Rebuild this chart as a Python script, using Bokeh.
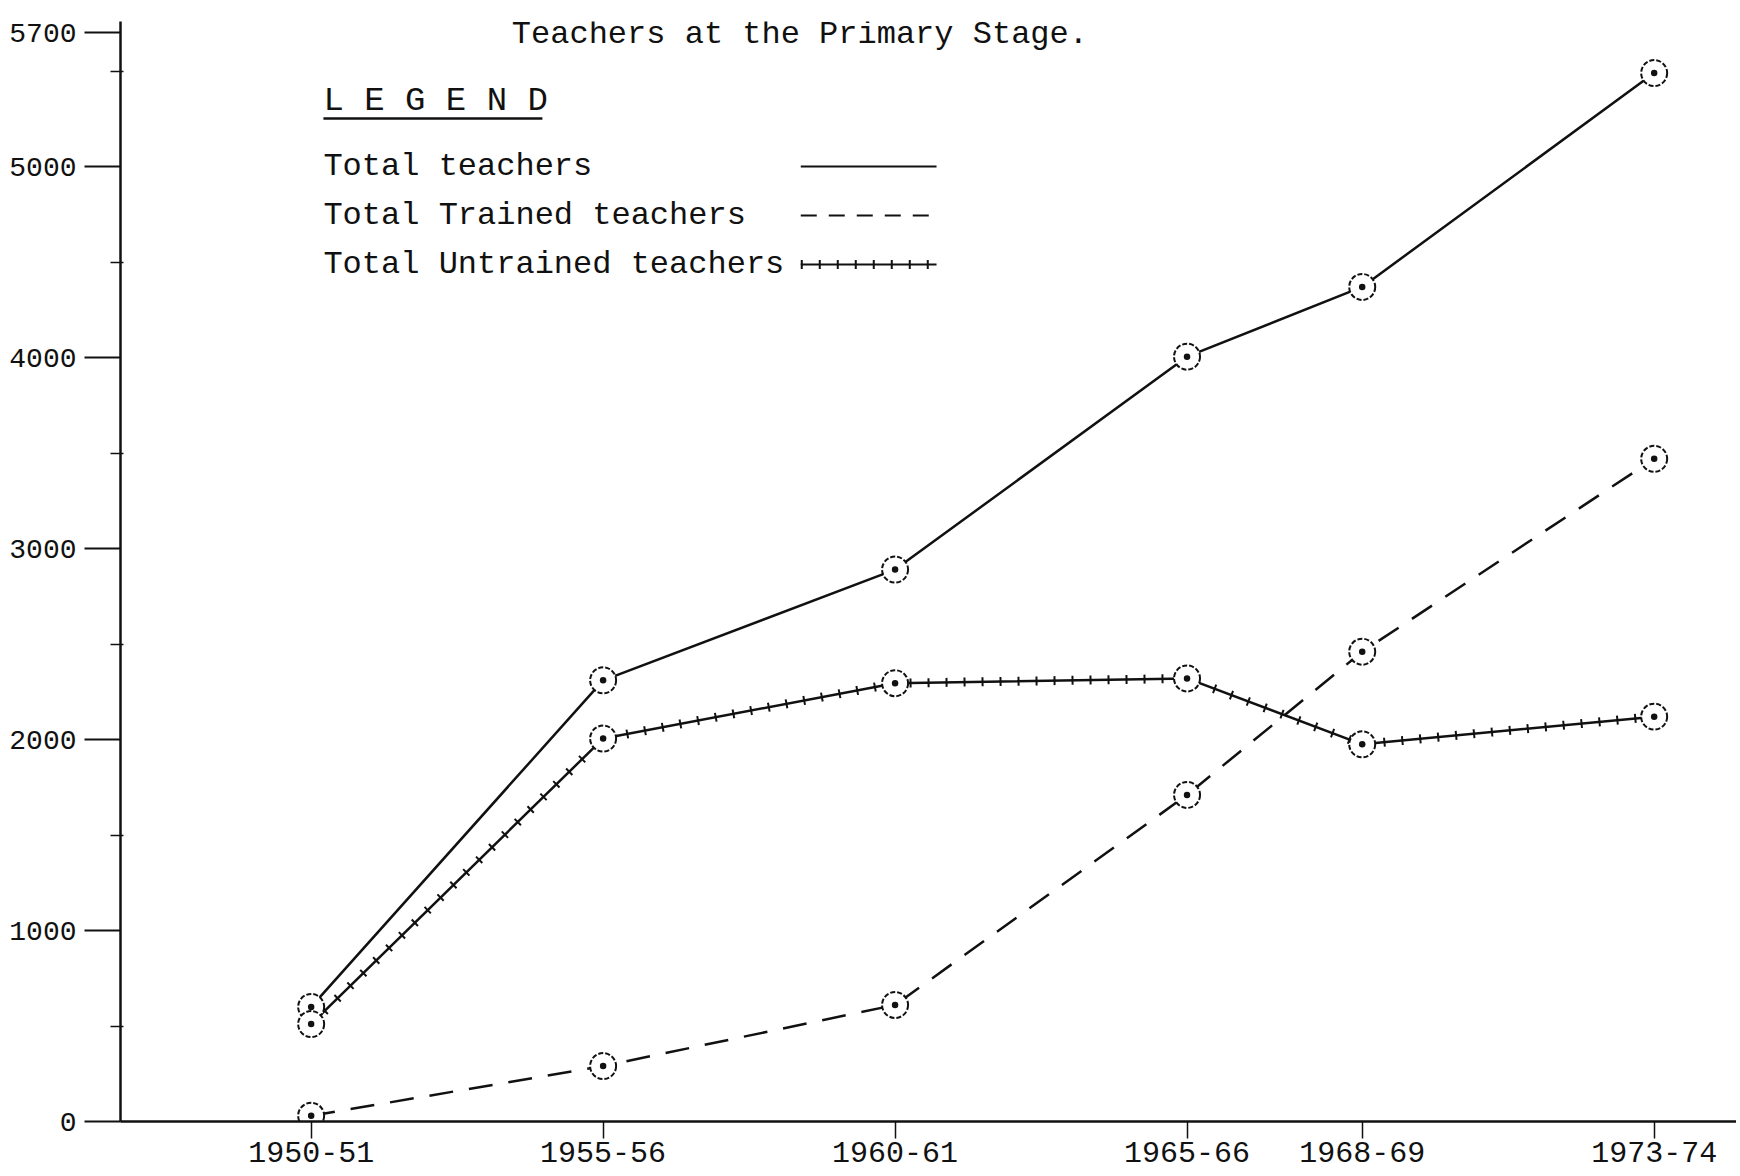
from bokeh.plotting import figure
from bokeh.models import FixedTicker, Label, Range1d
from bokeh.embed import file_html
from bokeh.resources import INLINE

# ---- data ----
years = [1950, 1955, 1960, 1965, 1968, 1973]
year_labels = ["1950-51", "1955-56", "1960-61", "1965-66", "1968-69", "1973-74"]
total_teachers = [600, 2310, 2890, 4005, 4370, 5490]
trained_teachers = [30, 290, 610, 1710, 2460, 3470]
untrained_teachers = [510, 2005, 2295, 2320, 1975, 2120]
y_ticks = [0, 1000, 2000, 3000, 4000, 5000, 5700]
y_minor = [500, 1500, 2500, 3500, 4500, 5500]

title_text = "Teachers at the Primary Stage."
legend_title = "L E G E N D"
legend_names = ["Total teachers", "Total Trained teachers", "Total Untrained teachers"]

FONT = "Liberation Mono"
INK = "#111111"

W, H = 1736, 1176
p = figure(width=W, height=H, output_backend="svg", toolbar_location=None,
           x_range=Range1d(1946.735, 1974.41), y_range=Range1d(0, 5760),
           min_border_left=120, min_border_right=0, min_border_top=21,
           min_border_bottom=H - 1121)
p.outline_line_color = None
p.grid.visible = False
p.background_fill_color = "white"

# axes
xa = p.xaxis[0]
xa.ticker = FixedTicker(ticks=years, minor_ticks=[])
xa.major_label_overrides = {y: l for y, l in zip(years, year_labels)}
xa.major_label_text_font = FONT
xa.major_label_text_font_size = "30px"
xa.major_label_text_color = INK
xa.major_tick_out = 17
xa.major_tick_in = 0
xa.major_tick_line_width = 1.5
xa.major_tick_line_color = INK
xa.major_label_standoff = 3
xa.axis_line_width = 2.5
xa.axis_line_color = INK

ya = p.yaxis[0]
ya.ticker = FixedTicker(ticks=y_ticks, minor_ticks=y_minor)
ya.major_label_text_font = FONT
ya.major_label_text_font_size = "28px"
ya.major_label_text_color = INK
ya.major_tick_out = 36
ya.major_tick_in = 0
ya.major_tick_line_width = 2
ya.major_tick_line_color = INK
ya.minor_tick_out = 10
ya.minor_tick_in = 3
ya.minor_tick_line_color = INK
ya.minor_tick_line_width = 1.5
ya.major_label_standoff = 8
ya.axis_line_width = 2.5
ya.axis_line_color = INK

# series lines
p.line(years, total_teachers, line_color=INK, line_width=2.5)
p.line(years, trained_teachers, line_color=INK, line_width=2.5, line_dash="24 16")
p.line(years, untrained_teachers, line_color=INK, line_width=2.5)
p.line(years, untrained_teachers, line_color=INK, line_width=9, line_dash="2 16")

# markers
for s in (total_teachers, trained_teachers, untrained_teachers):
    p.scatter(years, s, marker="circle_dot", size=26, fill_color="white",
              line_color=INK, line_width=2, line_dash="5 2")

# title
p.add_layout(Label(x=1958.37, y=5692, text=title_text, text_font=FONT,
                   text_font_size="32px", text_align="center",
                   text_baseline="alphabetic", text_color=INK))

# legend
leg_x0, leg_x1 = 1958.385, 1960.71
leg_y = [5001, 4744, 4488]
p.add_layout(Label(x=1950.21, y=5345, text=legend_title, text_font=FONT,
                   text_font_size="34px", text_baseline="middle", text_color=INK))
p.segment(x0=[1950.21], y0=[5252], x1=[1953.96], y1=[5252], line_color=INK, line_width=2.5)
for name, yy in zip(legend_names, leg_y):
    p.add_layout(Label(x=1950.21, y=yy, text=name, text_font=FONT,
                       text_font_size="32px", text_baseline="middle", text_color=INK))
p.segment(x0=[leg_x0], y0=[leg_y[0]], x1=[leg_x1], y1=[leg_y[0]], line_color=INK, line_width=2)
p.segment(x0=[leg_x0], y0=[leg_y[1]], x1=[leg_x1], y1=[leg_y[1]], line_color=INK, line_width=2,
          line_dash="16 12")
p.segment(x0=[leg_x0], y0=[leg_y[2]], x1=[leg_x1], y1=[leg_y[2]], line_color=INK, line_width=2)
p.segment(x0=[leg_x0], y0=[leg_y[2]], x1=[leg_x1], y1=[leg_y[2]], line_color=INK, line_width=9,
          line_dash="2 16")

open("out.html", "w").write(file_html(p, INLINE))
